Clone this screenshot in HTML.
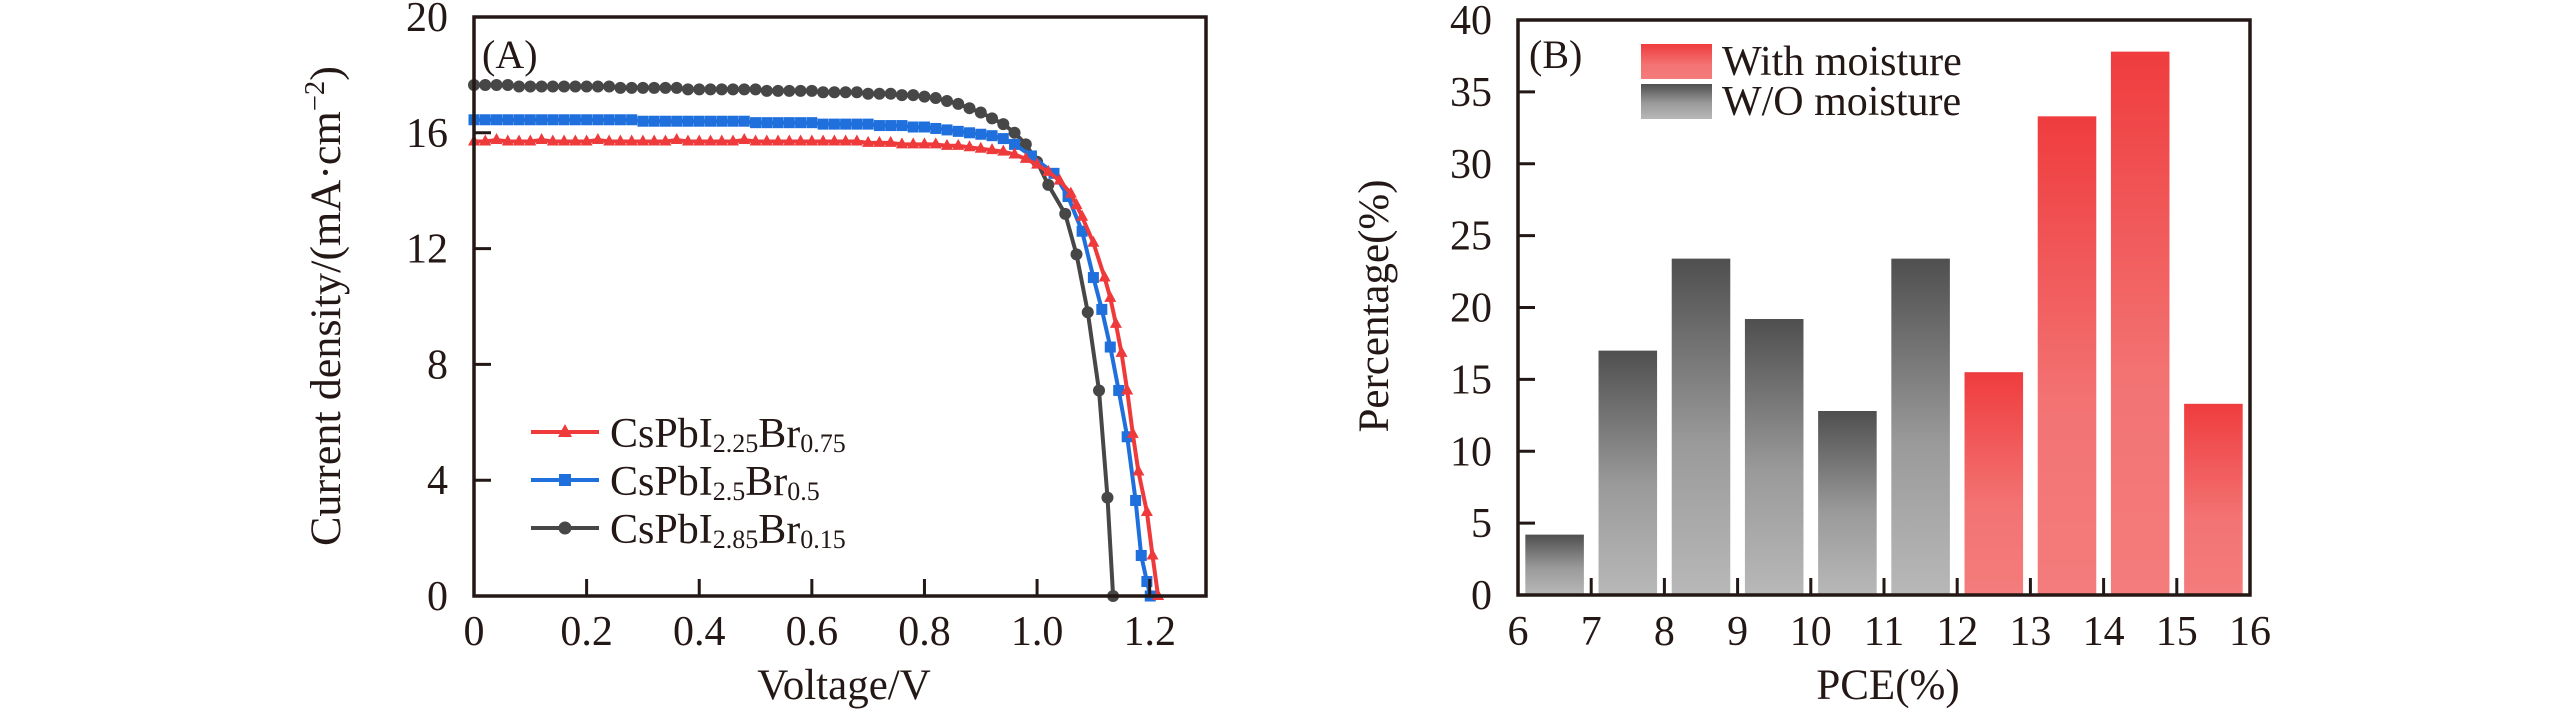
<!DOCTYPE html>
<html><head><meta charset="utf-8"><style>
html,body{margin:0;padding:0;background:#fff;}
svg, svg text, svg tspan{font-family:"Liberation Serif","Times New Roman",serif;}
</style></head><body>
<svg id="chart" width="2567" height="709" viewBox="0 0 2567 709" xmlns="http://www.w3.org/2000/svg" font-family="Liberation Serif, serif">
<defs>
<linearGradient id="gGray" x1="0" y1="0" x2="0" y2="1"><stop offset="0" stop-color="#4f4f4f"/><stop offset="0.55" stop-color="#9a9a9a"/><stop offset="1" stop-color="#b8b8b8"/></linearGradient>
<linearGradient id="gRed" x1="0" y1="0" x2="0" y2="1"><stop offset="0" stop-color="#ef3c3e"/><stop offset="0.6" stop-color="#f37373"/><stop offset="1" stop-color="#f47c7c"/></linearGradient>
</defs>
<g id="panelA"></g>
<g id="panelB"></g>
</svg>
<script>
// ---- Panel A data ----
const vRed = [0,0.02,0.04,0.06,0.08,0.1,0.12,0.14,0.16,0.18,0.2,0.22,0.24,0.26,0.28,0.3,0.32,0.34,0.36,0.38,0.4,0.42,0.44,0.46,0.48,0.5,0.52,0.54,0.56,0.58,0.6,0.62,0.64,0.66,0.68,0.7,0.72,0.74,0.76,0.78,0.8,0.82,0.84,0.86,0.88,0.9,0.92,0.94,0.96,0.98,1.0,1.02,1.04,1.06,1.07,1.08,1.1,1.12,1.13,1.14,1.15,1.16,1.17,1.18,1.195,1.205,1.215];
const jRed = [15.7,15.7,15.75,15.7,15.7,15.7,15.75,15.7,15.7,15.7,15.7,15.75,15.7,15.7,15.7,15.7,15.7,15.7,15.75,15.7,15.7,15.7,15.7,15.7,15.75,15.7,15.7,15.7,15.7,15.7,15.7,15.7,15.7,15.7,15.7,15.65,15.65,15.65,15.6,15.6,15.6,15.6,15.55,15.55,15.5,15.45,15.4,15.35,15.25,15.1,14.9,14.65,14.35,13.9,13.5,13.1,12.2,11.0,10.3,9.4,8.4,7.1,5.6,4.3,2.9,1.4,0];
const vBlue = [0,0.02,0.04,0.06,0.08,0.1,0.12,0.14,0.16,0.18,0.2,0.22,0.24,0.26,0.28,0.3,0.32,0.34,0.36,0.38,0.4,0.42,0.44,0.46,0.48,0.5,0.52,0.54,0.56,0.58,0.6,0.62,0.64,0.66,0.68,0.7,0.72,0.74,0.76,0.78,0.8,0.82,0.84,0.86,0.88,0.9,0.92,0.94,0.96,0.99,1.03,1.055,1.08,1.1,1.115,1.13,1.145,1.16,1.175,1.185,1.195,1.201];
const jBlue = [16.45,16.45,16.45,16.45,16.45,16.45,16.45,16.45,16.45,16.45,16.45,16.45,16.45,16.45,16.45,16.4,16.4,16.4,16.4,16.4,16.4,16.4,16.4,16.4,16.4,16.35,16.35,16.35,16.35,16.35,16.35,16.3,16.3,16.3,16.3,16.3,16.25,16.25,16.25,16.2,16.2,16.15,16.1,16.05,16.0,15.95,15.9,15.8,15.6,15.2,14.6,13.8,12.6,11.0,9.9,8.6,7.1,5.5,3.3,1.4,0.5,0];
const vBlack = [0,0.02,0.04,0.06,0.08,0.1,0.12,0.14,0.16,0.18,0.2,0.22,0.24,0.26,0.28,0.3,0.32,0.34,0.36,0.38,0.4,0.42,0.44,0.46,0.48,0.5,0.52,0.54,0.56,0.58,0.6,0.62,0.64,0.66,0.68,0.7,0.72,0.74,0.76,0.78,0.8,0.82,0.84,0.86,0.88,0.9,0.92,0.94,0.96,0.98,1.0,1.02,1.05,1.07,1.09,1.11,1.125,1.135];
const jBlack = [17.65,17.65,17.65,17.65,17.6,17.6,17.6,17.6,17.6,17.6,17.6,17.6,17.6,17.55,17.55,17.55,17.55,17.55,17.55,17.5,17.5,17.5,17.5,17.5,17.5,17.5,17.45,17.45,17.45,17.45,17.45,17.4,17.4,17.4,17.4,17.35,17.35,17.35,17.3,17.3,17.25,17.2,17.1,17.0,16.85,16.7,16.5,16.3,16.0,15.6,15.0,14.2,13.2,11.8,9.8,7.1,3.4,0];
const xTicksA = [0,0.2,0.4,0.6,0.8,1.0,1.2];
const xTickLabelsA = ["0","0.2","0.4","0.6","0.8","1.0","1.2"];
const yTicksA = [0,4,8,12,16,20];
// ---- Panel B data ----
const binStarts = [6,7,8,9,10,11,12,13,14,15];
const binPercent = [4.2,17.0,23.4,19.2,12.8,23.4,15.5,33.3,37.8,13.3];
const binGroup = ["wo","wo","wo","wo","wo","wo","with","with","with","with"];
const xTicksB = [6,7,8,9,10,11,12,13,14,15,16];
const yTicksB = [0,5,10,15,20,25,30,35,40];

const NS="http://www.w3.org/2000/svg";
const FF='"Liberation Serif","Times New Roman",serif';
function mk(parent,tag,attrs,text){const e=document.createElementNS(NS,tag);for(const k in attrs)e.setAttribute(k,attrs[k]);if(tag==='text')e.setAttribute('font-family',FF);if(text!==undefined)e.textContent=text;parent.appendChild(e);return e;}

const A={l:474,r:1206,t:17,b:596,x0:0,x1:1.3,y0:0,y1:20};
const axA=v=>A.l+(v-A.x0)/(A.x1-A.x0)*(A.r-A.l);
const ayA=v=>A.b-(v-A.y0)/(A.y1-A.y0)*(A.b-A.t);
const pA=document.getElementById('panelA');

function series(vs,js,color,marker,name){
  const g=mk(pA,'g',{});
  
  
  const pts=vs.map((v,i)=>axA(v).toFixed(1)+','+ayA(js[i]).toFixed(1)).join(' ');
  const pl=mk(g,'polyline',{points:pts,fill:'none',stroke:color,'stroke-width':4});
  
  
  vs.forEach((v,i)=>{
    const x=axA(v),y=ayA(js[i]);let m;
    if(marker==='tri') m=mk(g,'polygon',{points:`${x},${y-7} ${x-6},${y+4} ${x+6},${y+4}`,fill:color});
    else if(marker==='sq') m=mk(g,'rect',{x:x-5.5,y:y-5.5,width:11,height:11,fill:color});
    else m=mk(g,'circle',{cx:x,cy:y,r:6,fill:color});
    
    
  });
}
series(vBlack,jBlack,'#474747','circ','series-cspbi285br015');
series(vBlue,jBlue,'#1f6fdc','sq','series-cspbi25br05');
series(vRed,jRed,'#ef3a3c','tri','series-cspbi225br075');

mk(pA,'rect',{x:A.l,y:A.t,width:A.r-A.l,height:A.b-A.t,fill:'none',stroke:'#231815','stroke-width':3.5});
xTicksA.forEach((v,i)=>{
  const x=axA(v);
  if(i>0){const t=mk(pA,'line',{x1:x,y1:A.b,x2:x,y2:A.b-17,stroke:'#231815','stroke-width':3});
  }
  const l=mk(pA,'text',{x:x,y:645,'font-size':42,'text-anchor':'middle',fill:'#231815'},xTickLabelsA[i]);
  
  
});
yTicksA.forEach(v=>{
  const y=ayA(v);
  if(v>0&&v<20){const t=mk(pA,'line',{x1:A.l,y1:y,x2:A.l+17,y2:y,stroke:'#231815','stroke-width':3});
  }
  const l=mk(pA,'text',{x:448,y:y+14,'font-size':42,'text-anchor':'end',fill:'#231815'},String(v));
  
  
});
let t;
t=mk(pA,'text',{x:844,y:699,'font-size':43,'text-anchor':'middle',fill:'#231815'},'Voltage/V');

t=mk(pA,'text',{x:0,y:0,'font-size':43,'text-anchor':'middle',fill:'#231815',transform:'translate(340,306) rotate(-90)',textLength:480,lengthAdjust:'spacingAndGlyphs'});
t.innerHTML='Current density/(mA·cm<tspan dy="-16" font-size="28">−2</tspan><tspan dy="16">)</tspan>';

t=mk(pA,'text',{x:482,y:68,'font-size':40,fill:'#231815'},'(A)');


const legA=[['#ef3a3c','tri','2.25','0.75'],['#1f6fdc','sq','2.5','0.5'],['#474747','circ','2.85','0.15']];
legA.forEach((d,i)=>{
  const y=432+i*48;
  const g=mk(pA,'g',{});
  
  
  mk(g,'line',{x1:531,y1:y,x2:599,y2:y,stroke:d[0],'stroke-width':4});
  const x=565;
  if(d[1]==='tri') mk(g,'polygon',{points:`${x},${y-8} ${x-7},${y+5} ${x+7},${y+5}`,fill:d[0]});
  else if(d[1]==='sq') mk(g,'rect',{x:x-6,y:y-6,width:12,height:12,fill:d[0]});
  else mk(g,'circle',{cx:x,cy:y,r:6.5,fill:d[0]});
  const tx=mk(g,'text',{x:610,y:y+15,'font-size':42,fill:'#231815'});
  tx.innerHTML=`CsPbI<tspan font-size="26" dy="5">${d[2]}</tspan><tspan dy="-5">Br</tspan><tspan font-size="26" dy="5">${d[3]}</tspan>`;
});

const B={l:1518,r:2250,t:20,b:595,x0:6,x1:16,y0:0,y1:40};
const axB=v=>B.l+(v-B.x0)/(B.x1-B.x0)*(B.r-B.l);
const ayB=v=>B.b-(v-B.y0)/(B.y1-B.y0)*(B.b-B.t);
const pB=document.getElementById('panelB');
binStarts.forEach((s,i)=>{
  const x=axB(s+0.1),w=axB(s+0.9)-x,y=ayB(binPercent[i]);
  const r=mk(pB,'rect',{x:x,y:y,width:w,height:B.b-y,fill:binGroup[i]==='wo'?'url(#gGray)':'url(#gRed)'});
  
  
});
mk(pB,'rect',{x:B.l,y:B.t,width:B.r-B.l,height:B.b-B.t,fill:'none',stroke:'#231815','stroke-width':3.5});
xTicksB.forEach(v=>{
  const x=axB(v);
  if(v>6&&v<16){const tk=mk(pB,'line',{x1:x,y1:B.b,x2:x,y2:B.b-17,stroke:'#231815','stroke-width':3});
  }
  const l=mk(pB,'text',{x:x,y:645,'font-size':42,'text-anchor':'middle',fill:'#231815'},String(v));
  
  
});
yTicksB.forEach(v=>{
  const y=ayB(v);
  if(v>0&&v<40){const tk=mk(pB,'line',{x1:B.l,y1:y,x2:B.l+17,y2:y,stroke:'#231815','stroke-width':3});
  }
  const l=mk(pB,'text',{x:1492,y:y+14,'font-size':42,'text-anchor':'end',fill:'#231815'},String(v));
  
  
});
t=mk(pB,'text',{x:1888,y:699,'font-size':43,'text-anchor':'middle',fill:'#231815'},'PCE(%)');

t=mk(pB,'text',{x:0,y:0,'font-size':43,'text-anchor':'middle',fill:'#231815',transform:'translate(1388,306) rotate(-90)'},'Percentage(%)');

t=mk(pB,'text',{x:1529,y:68,'font-size':40,fill:'#231815'},'(B)');

[['url(#gRed)','With moisture',44],['url(#gGray)','W/O moisture',84]].forEach(d=>{
  const g=mk(pB,'g',{});
  
  
  mk(g,'rect',{x:1641,y:d[2],width:71,height:35,fill:d[0]});
  mk(g,'text',{x:1722,y:d[2]+31,'font-size':42,fill:'#231815'},d[1]);
});
</script>
</body></html>
